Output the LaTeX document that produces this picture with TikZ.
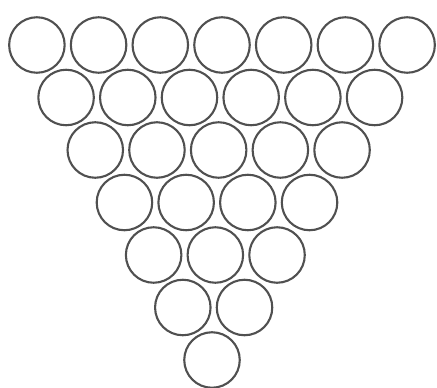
\documentclass[tikz,border=0pt]{standalone}
\usepackage{xcolor}
\usepackage{tikz}
\usetikzlibrary{positioning}
\definecolor{ring}{HTML}{505050}
\begin{document}
\begin{tikzpicture}[x=1pt,y=-1pt,
   ball/.style={circle,draw=ring,line width=2.1pt,minimum size=55.5pt,inner sep=0pt}]
  \useasboundingbox (0,0) rectangle (437,388);
  % rows of 7,6,...,1 rings
  \foreach \r in {0,...,6}{
    \pgfmathtruncatemacro{\n}{7-\r}
    \foreach \i in {1,...,\n}{
      \node[ball] (c-\r-\i) at ({222-\r*10/6+(\i-(\n+1)/2)*61.7}, {45+\r*52.5}) {};
    }
  }
\end{tikzpicture}
\end{document}
